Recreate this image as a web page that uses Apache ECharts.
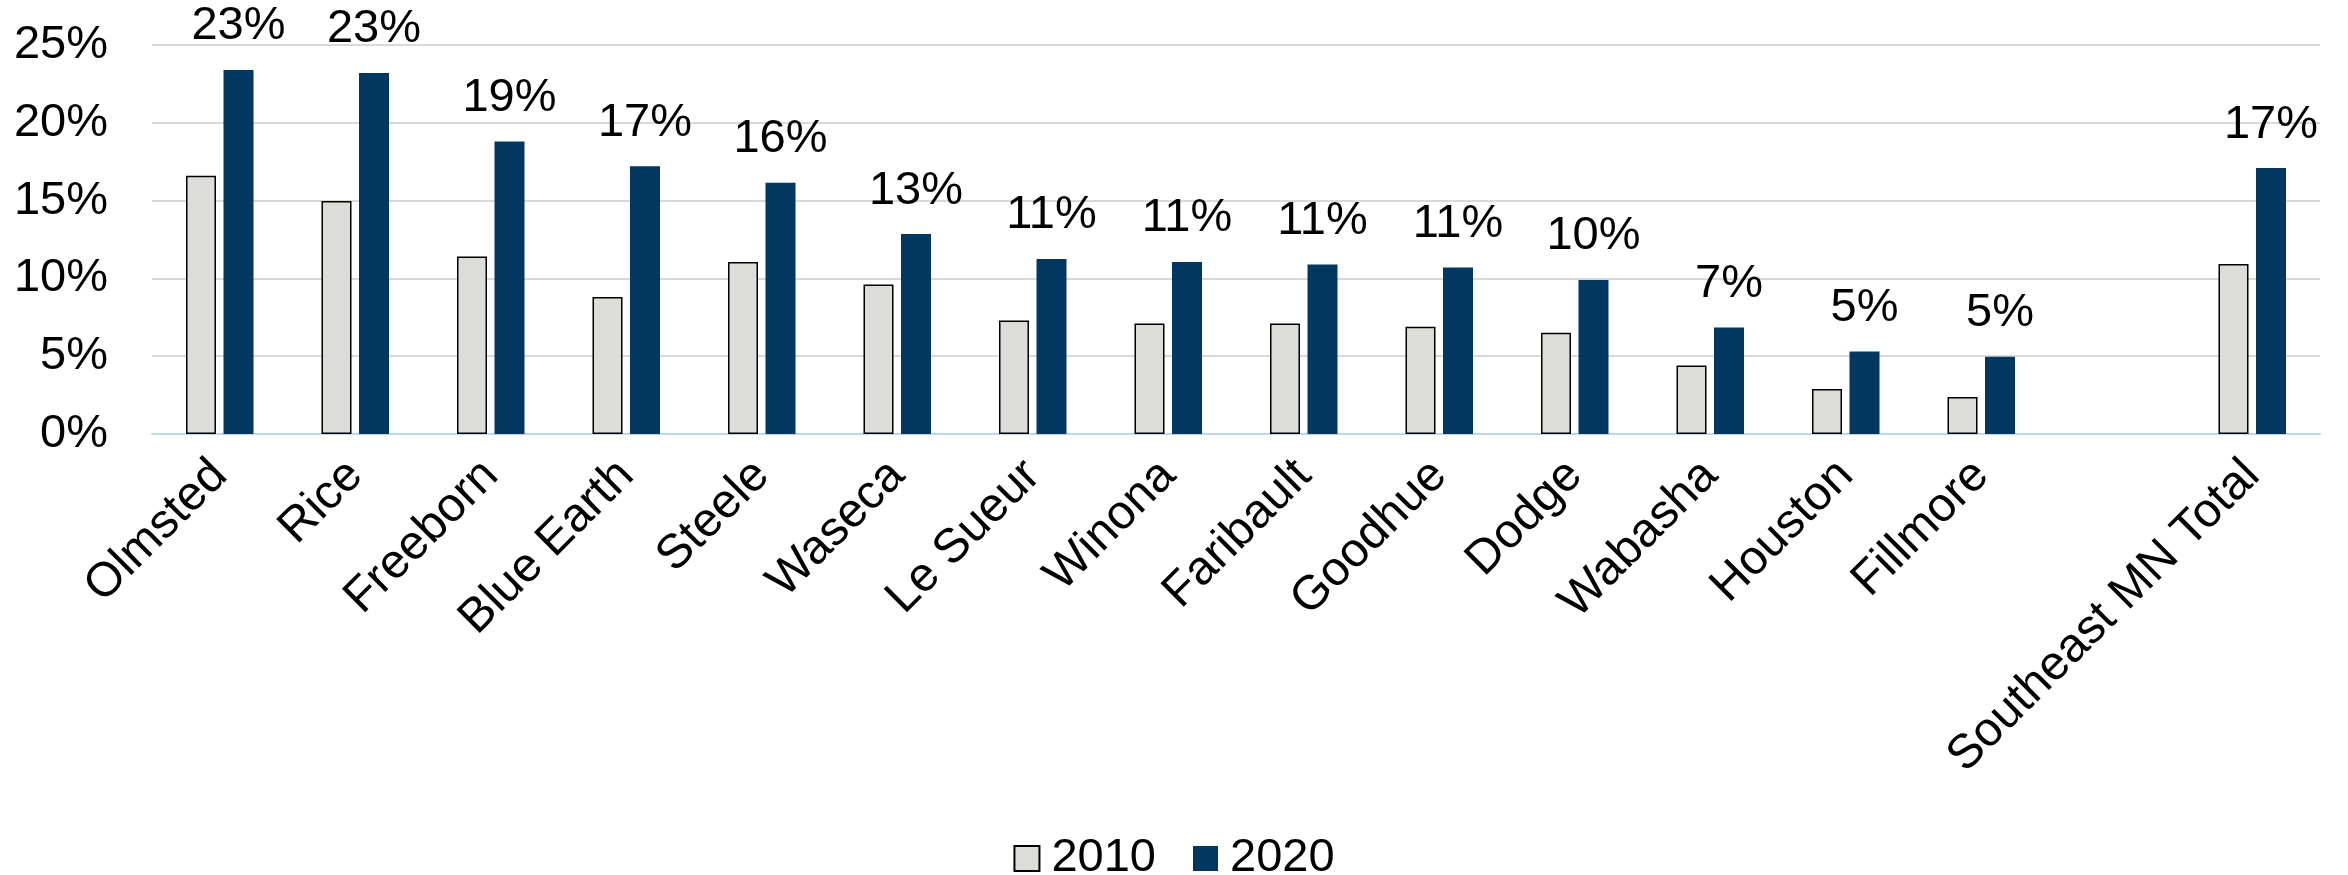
<!DOCTYPE html>
<html>
<head>
<meta charset="utf-8">
<script src="https://cdn.jsdelivr.net/npm/echarts@6/dist/echarts.min.js"></script>
<style>
html,body{margin:0;padding:0;background:#fff;}
#chart{width:2348px;height:875px;}
</style>
</head>
<body>
<div id="chart"></div>
<script>
const categories = ['Olmsted','Rice','Freeborn','Blue Earth','Steele','Waseca','Le Sueur','Winona','Faribault','Goodhue','Dodge','Wabasha','Houston','Fillmore','','Southeast MN Total'];
const values2010 = [16.6,14.97,11.4,8.8,11.06,9.6,7.3,7.1,7.1,6.9,6.5,4.4,2.9,2.38,null,10.93];
const values2020 = [23.4,23.2,18.8,17.2,16.15,12.85,11.25,11.06,10.9,10.7,9.9,6.84,5.3,4.97,null,17.09];
const yTicks = [0,5,10,15,20,25];

const FONT = '"Liberation Sans", Arial, sans-serif';
const chart = echarts.init(document.getElementById('chart'));
chart.setOption({
  animation:false,
  backgroundColor:'#fff',
  textStyle:{fontFamily:FONT},
  grid:{left:152,right:28,top:45,bottom:441,containLabel:false},
  legend:{
    top:830,left:'center',icon:'rect',
    itemWidth:25,itemHeight:25,itemGap:37,
    textStyle:{fontSize:47,color:'#000',fontFamily:FONT,padding:[0,0,0,7]},
    data:['2010','2020']
  },
  xAxis:{
    type:'category',data:categories,
    axisLine:{show:true,lineStyle:{color:'#BDD7EE',width:2}},
    axisTick:{show:false},
    axisLabel:{rotate:45,fontSize:48,color:'#000',fontFamily:FONT,interval:0,margin:34}
  },
  yAxis:{
    type:'value',min:yTicks[0],max:yTicks[yTicks.length-1],interval:5,
    axisLine:{show:false},axisTick:{show:false},
    splitLine:{lineStyle:{color:'#D9D9D9',width:2}},
    axisLabel:{formatter:'{value}%',fontSize:47,color:'#000',fontFamily:FONT,margin:44}
  },
  series:[
    {name:'2010',type:'bar',data:values2010,barWidth:30,barGap:'25%',
     itemStyle:{color:'#DCDDD8',borderColor:'#000',borderWidth:1.5}},
    {name:'2020',type:'bar',data:values2020,barWidth:30,
     itemStyle:{color:'#02375F'},
     label:{show:true,position:'top',distance:20,fontSize:47,color:'#000',fontFamily:FONT,
       formatter:p=>p.value==null?'':Math.round(p.value)+'%'}}
  ]
});
</script>
</body>
</html>
